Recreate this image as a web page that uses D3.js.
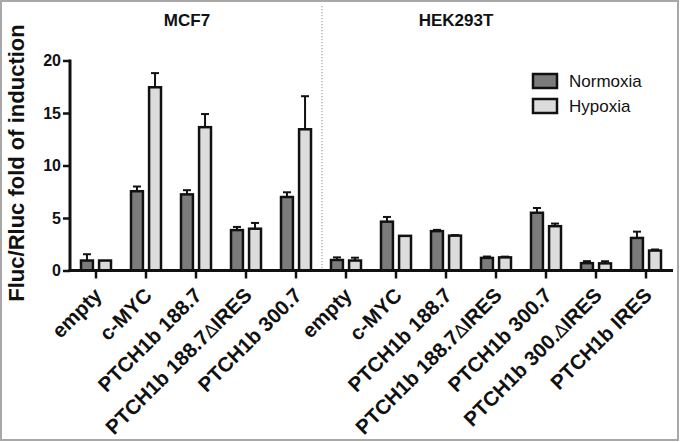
<!DOCTYPE html>
<html><head><meta charset="utf-8">
<script src="https://cdn.jsdelivr.net/npm/d3@7"></script>
<style>
html,body{margin:0;padding:0;background:#fff;}
svg{display:block;font-family:"Liberation Sans",Arial,sans-serif;}
</style></head>
<body>
<svg id="chart" width="681" height="442"></svg>
<script>
// ---- data ----
const groups = ["MCF7", "HEK293T"];
const mcf7Labels = ["empty", "c-MYC", "PTCH1b 188.7", "PTCH1b 188.7\u2206IRES", "PTCH1b 300.7"];
const hekLabels = ["empty", "c-MYC", "PTCH1b 188.7", "PTCH1b 188.7\u2206IRES", "PTCH1b 300.7", "PTCH1b 300.\u2206IRES", "PTCH1b IRES"];
const seriesNames = ["Normoxia", "Hypoxia"];
const mcf7Normoxia = [0.95, 7.55, 7.25, 3.85, 7.0];
const mcf7NormoxiaErr = [0.6, 0.45, 0.4, 0.3, 0.45];
const mcf7Hypoxia = [0.95, 17.45, 13.65, 3.98, 13.45];
const mcf7HypoxiaErr = [0.0, 1.35, 1.25, 0.55, 3.15];
const hekNormoxia = [1.0, 4.65, 3.75, 1.2, 5.5, 0.7, 3.1];
const hekNormoxiaErr = [0.25, 0.45, 0.12, 0.13, 0.45, 0.19, 0.6];
const hekHypoxia = [0.95, 3.3, 3.32, 1.25, 4.22, 0.68, 1.9];
const hekHypoxiaErr = [0.27, 0, 0.05, 0.07, 0.25, 0.2, 0.1];
const yTicks = [0, 5, 10, 15, 20];
const yTitle = "Fluc/Rluc fold of induction";

// build rows
const rows = [];
mcf7Labels.forEach((l, i) => rows.push({id: "MCF7-" + i, group: "MCF7", label: l,
  vals: [{s: "Normoxia", v: mcf7Normoxia[i], e: mcf7NormoxiaErr[i]}, {s: "Hypoxia", v: mcf7Hypoxia[i], e: mcf7HypoxiaErr[i]}]}));
hekLabels.forEach((l, i) => rows.push({id: "HEK-" + i, group: "HEK293T", label: l,
  vals: [{s: "Normoxia", v: hekNormoxia[i], e: hekNormoxiaErr[i]}, {s: "Hypoxia", v: hekHypoxia[i], e: hekHypoxiaErr[i]}]}));

const colors = {Normoxia: "#7b7b7b", Hypoxia: "#dcdcdc"};
const svg = d3.select("#chart");

// frame
svg.append("rect").attr("x", 1).attr("y", 1).attr("width", 677).attr("height", 439)
  .attr("fill", "#fff").attr("stroke", "#a8a8a8").attr("stroke-width", 2);

const x = d3.scaleBand().domain(rows.map(r => r.id)).range([71, 671]).paddingInner(0).paddingOuter(0);
const bw = x.bandwidth();
const x1 = d3.scaleBand().domain(seriesNames).range([bw / 2 - 15, bw / 2 + 15]).paddingInner(0.34);
const y = d3.scaleLinear().domain([0, 20]).range([270.5, 60.5]);

// divider
const divX = x("HEK-0");
svg.append("line").attr("x1", divX + 1).attr("x2", divX + 1).attr("y1", 6).attr("y2", 270)
  .attr("stroke", "#8a8a8a").attr("stroke-width", 1).attr("stroke-dasharray", "1.2,1.8");

// group titles
groups.forEach(g => {
  const cx = g === "MCF7" ? 187 : 456;
  svg.append("text").attr("x", cx).attr("y", 26).attr("text-anchor", "middle")
    .attr("font-weight", "bold").attr("font-size", 17).attr("fill", "#111").text(g);
});

// bars
const gBars = svg.append("g");
const cat = gBars.selectAll("g.cat").data(rows).join("g").attr("class", "cat")
  .attr("transform", d => `translate(${x(d.id)},0)`);
cat.selectAll("g.err").data(d => d.vals.filter(v => v.e > 0)).join("g").attr("class", "err")
  .each(function(d) {
    const g = d3.select(this);
    const cx = x1(d.s) + x1.bandwidth() / 2;
    g.append("line").attr("x1", cx).attr("x2", cx).attr("y1", y(d.v)).attr("y2", y(d.v + d.e))
      .attr("stroke", "#111").attr("stroke-width", 2);
    g.append("line").attr("x1", cx - 4).attr("x2", cx + 4).attr("y1", y(d.v + d.e)).attr("y2", y(d.v + d.e))
      .attr("stroke", "#111").attr("stroke-width", 2);
  });
cat.selectAll("rect").data(d => d.vals).join("rect")
  .attr("x", d => x1(d.s)).attr("width", x1.bandwidth())
  .attr("y", d => y(d.v)).attr("height", d => y(0) - y(d.v))
  .attr("fill", d => colors[d.s]).attr("stroke", "#111").attr("stroke-width", 2.5);

// y axis
const yAxis = svg.append("g").attr("transform", "translate(70,0)")
  .call(d3.axisLeft(y).tickValues(yTicks).tickSize(7).tickPadding(2).tickSizeOuter(0));
yAxis.select(".domain").attr("stroke", "#111").attr("stroke-width", 3).attr("d", `M0,${y(20)-1}V${y(0)+1.5}`);
yAxis.selectAll(".tick line").attr("stroke", "#111").attr("stroke-width", 2.5);
yAxis.selectAll(".tick text").attr("font-size", 16).attr("font-weight", "bold").attr("fill", "#111")
  .attr("font-family", "Liberation Sans, Arial, sans-serif");

// x axis
const xAxis = svg.append("g").attr("transform", `translate(0,${y(0)})`)
  .call(d3.axisBottom(x).tickSize(8).tickSizeOuter(0).tickFormat(""));
xAxis.select(".domain").attr("stroke", "#111").attr("stroke-width", 3).attr("d", "M68.5,0H673");
xAxis.selectAll(".tick line").attr("stroke", "#111").attr("stroke-width", 2.5);
xAxis.selectAll(".tick text").remove();

// x labels rotated
const lab = svg.append("g").selectAll("text").data(rows).join("text")
  .attr("transform", d => `translate(${x(d.id) + bw / 2 - 3},${y(0) + 16}) rotate(-45)`)
  .attr("text-anchor", "end").attr("dy", "0.7em")
  .attr("font-size", 20.5).attr("font-weight", "bold").attr("fill", "#111");
lab.each(function(d) {
  const t = d3.select(this);
  const parts = d.label.split("\u2206");
  t.append("tspan").text(parts[0]);
  if (parts.length > 1) {
    t.append("tspan").attr("font-weight", "normal").attr("font-family", "DejaVu Sans").attr("font-size", 18).text("\u2206");
    t.append("tspan").text(parts[1]);
  }
});

// y title
svg.append("text").attr("transform", "translate(24,163) rotate(-90)").attr("text-anchor", "middle")
  .attr("font-size", 22).attr("font-weight", "bold").attr("fill", "#111").text(yTitle);

// legend
const leg = svg.append("g").selectAll("g").data(seriesNames).join("g")
  .attr("transform", (d, i) => `translate(533,${74 + i * 25})`);
leg.append("rect").attr("width", 24).attr("height", 14).attr("fill", d => colors[d])
  .attr("stroke", "#111").attr("stroke-width", 2.5);
leg.append("text").attr("x", 36).attr("y", 13).attr("font-size", 17).attr("fill", "#111").text(d => d);
</script>
</body></html>
